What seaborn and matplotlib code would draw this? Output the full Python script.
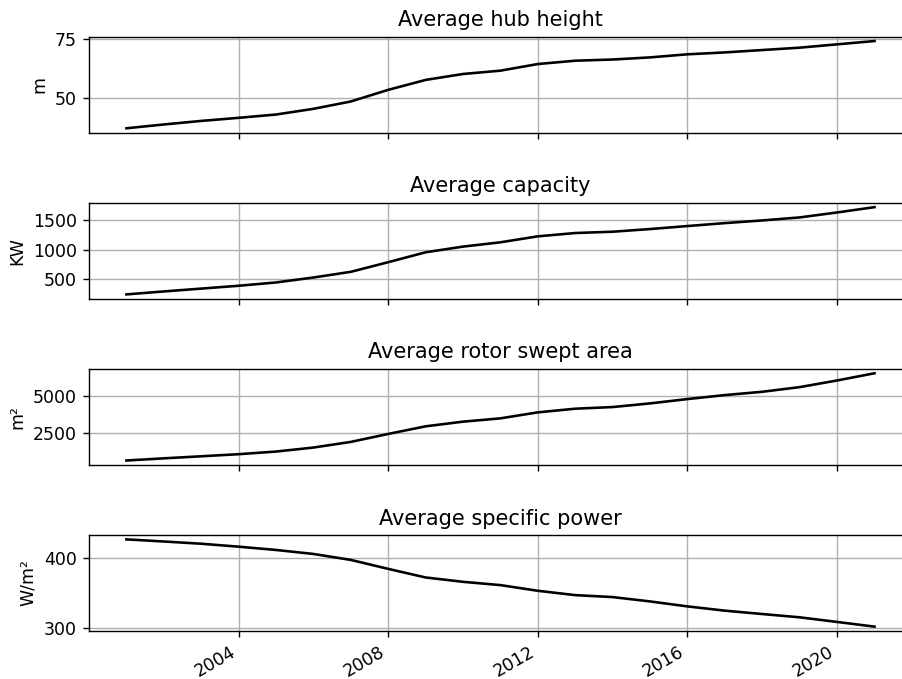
import numpy as np
import pandas as pd
import matplotlib
matplotlib.use("Agg")
import matplotlib.pyplot as plt
import matplotlib.dates as mdates
import seaborn as sns

years = list(range(2001, 2022))
hub_height = [37.2, 38.8, 40.3, 41.6, 43.0, 45.4, 48.5, 53.4, 57.6, 60.1, 61.5,
              64.3, 65.7, 66.2, 67.1, 68.4, 69.2, 70.2, 71.2, 72.6, 74.0]
capacity = [242, 292, 340, 388, 444, 528, 624, 787, 955, 1051, 1124,
            1225, 1281, 1303, 1348, 1399, 1449, 1494, 1545, 1629, 1719]
swept_area = [653, 800, 940, 1081, 1261, 1532, 1915, 2455, 2973, 3288, 3513,
              3919, 4167, 4279, 4527, 4820, 5090, 5315, 5630, 6081, 6570]
specific_power = [426.0, 423.0, 419.8, 415.6, 410.9, 405.2, 396.7, 383.9, 371.6, 365.4, 360.7,
                  352.6, 346.4, 343.6, 337.4, 330.3, 324.2, 319.4, 314.7, 308.1, 301.4]

titles = ["Average hub height", "Average capacity", "Average rotor swept area", "Average specific power"]
ylabels = ["m", "KW", "m²", "W/m²"]
yticks = [[50, 75], [500, 1000, 1500], [2500, 5000], [300, 400]]
series = [hub_height, capacity, swept_area, specific_power]

dates = pd.to_datetime([f"{y}-01-01" for y in years])

fig, axes = plt.subplots(4, 1, sharex=True, figsize=(902 / 125, 679 / 125), dpi=125)
for ax, vals, title, ylab, yt in zip(axes, series, titles, ylabels, yticks):
    df = pd.DataFrame({"date": dates, "value": vals})
    sns.lineplot(data=df, x="date", y="value", ax=ax, color="black")
    ax.set_title(title)
    ax.set_ylabel(ylab)
    ax.set_xlabel("")
    ax.set_yticks(yt)
    ax.grid(True)

axes[-1].xaxis.set_major_locator(mdates.YearLocator(4))
axes[-1].xaxis.set_major_formatter(mdates.DateFormatter("%Y"))
fig.autofmt_xdate(rotation=30, ha="right")
fig.subplots_adjust(left=0.0987, right=1.011, top=0.946, bottom=0.0707, hspace=0.731)
fig.savefig("out.png", dpi=125)
